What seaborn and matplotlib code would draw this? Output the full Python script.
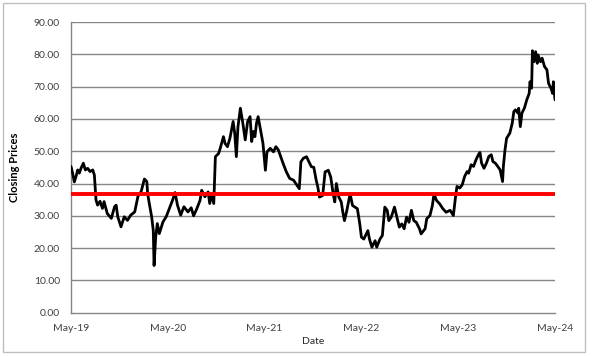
import matplotlib
matplotlib.use("Agg")
import matplotlib.pyplot as plt
import seaborn as sns
import pandas as pd
from matplotlib.patches import Rectangle

# months elapsed since May 2019
month_pos = [0.0, 0.2, 0.41, 0.62, 0.83, 1.03, 1.24, 1.53, 1.78, 2.07, 2.36, 2.7, 2.9, 3.1, 3.3,
             3.6, 3.9, 4.1, 4.5, 5.0, 5.4, 5.6, 5.8, 6.2, 6.6, 7.0, 7.4, 7.9, 8.3, 8.7, 9.1,
             9.4, 9.5, 9.7, 10.0, 10.2, 10.3, 10.5, 10.7, 10.95, 11.4, 11.8, 12.2, 12.6,
             12.9, 13.2, 13.6, 14.0, 14.5, 14.9, 15.2, 15.6, 16.0, 16.2, 16.6, 17.0, 17.2,
             17.4, 17.7, 17.9, 18.3, 18.5, 18.9, 19.1, 19.4, 19.7, 20.1, 20.3, 20.5, 20.7,
             21.0, 21.3, 21.6, 21.9, 22.2, 22.4, 22.6, 22.8, 23.0, 23.2, 23.5, 23.8, 24.0,
             24.1, 24.3, 24.7, 25.1, 25.4, 25.7, 26.0, 26.3, 26.7, 27.1, 27.6, 28.0, 28.3,
             28.5, 28.8, 29.2, 29.5, 29.8, 30.1, 30.4, 30.6, 30.8, 31.2, 31.5, 31.9, 32.2,
             32.5, 32.7, 32.9, 33.2, 33.5, 33.7, 33.9, 34.2, 34.6, 34.9, 35.2, 35.5, 35.8,
             36.0, 36.3, 36.6, 36.8, 37.0, 37.3, 37.7, 37.9, 38.3, 38.6, 38.9, 39.2, 39.4,
             39.7, 40.1, 40.4, 40.7, 41.0, 41.3, 41.6, 41.9, 42.2, 42.5, 42.8, 43.2, 43.4,
             43.9, 44.1, 44.5, 44.8, 45.0, 45.3, 45.7, 46.1, 46.5, 47.0, 47.4, 47.7, 47.85,
             48.2, 48.5, 48.8, 49.1, 49.3, 49.6, 49.9, 50.2, 50.5, 50.7, 50.9, 51.2, 51.5,
             51.8, 52.1, 52.3, 52.6, 52.9, 53.2, 53.5, 53.6, 53.8, 54.0, 54.4, 54.7, 54.9,
             55.1, 55.4, 55.5, 55.7, 55.9, 56.2, 56.5, 56.8, 56.9, 57.1, 57.2, 57.4, 57.6,
             57.8, 57.9, 58.2, 58.4, 58.7, 59.0, 59.2, 59.5, 59.7, 59.8, 60.0]

close_prices = [45.3, 43.2, 40.5, 42.1, 44.2, 43.2, 44.7, 46.3, 44.2, 44.7, 43.7, 44.2, 42.6,
                34.9, 33.3, 34.5, 32.3, 34.4, 30.7, 29.2, 32.8, 33.3, 29.7, 26.6, 29.7, 28.6,
                30.2, 31.2, 36.0, 37.5, 41.4, 40.6, 37.0, 33.9, 29.7, 25.5, 14.6, 23.4, 27.6,
                24.5, 28.1, 29.7, 32.3, 34.9, 37.2, 33.3, 30.2, 32.8, 31.2, 32.5, 30.0, 32.2,
                34.8, 37.9, 35.9, 37.4, 33.8, 36.9, 33.8, 48.3, 49.3, 50.9, 54.5, 52.4, 51.4,
                54.0, 59.2, 55.5, 48.3, 57.6, 63.3, 58.7, 53.5, 59.2, 60.7, 53.0, 56.1, 54.5,
                58.7, 60.7, 56.6, 52.4, 46.7, 44.1, 49.8, 50.9, 49.8, 51.4, 50.4, 48.3, 46.2,
                43.6, 41.6, 41.0, 39.5, 38.4, 46.7, 47.8, 48.3, 46.7, 45.2, 45.0, 41.0, 38.9,
                35.8, 36.3, 43.6, 44.1, 42.0, 36.8, 34.3, 40.0, 35.8, 34.3, 31.1, 28.5, 31.7,
                36.8, 33.2, 32.7, 32.2, 27.5, 23.4, 22.8, 24.4, 25.4, 22.8, 20.3, 22.3, 20.3,
                22.8, 23.9, 32.7, 31.7, 28.5, 29.6, 32.7, 29.6, 26.5, 27.5, 26.0, 29.6, 28.0,
                31.7, 28.5, 28.0, 26.0, 24.4, 26.0, 29.1, 30.1, 33.2, 36.8, 34.8, 33.7, 32.2,
                31.1, 31.7, 30.1, 36.5, 39.1, 38.6, 39.6, 42.2, 43.7, 43.2, 45.8, 45.3, 47.3,
                48.9, 49.6, 46.3, 44.7, 46.3, 48.4, 48.9, 46.8, 46.3, 45.3, 44.2, 40.6, 45.3,
                50.4, 54.0, 55.6, 58.7, 62.3, 62.8, 61.8, 63.3, 57.6, 61.8, 63.3, 65.9, 67.9,
                71.5, 69.5, 81.1, 77.7, 80.8, 77.2, 79.8, 77.7, 78.8, 76.2, 75.2, 71.0, 69.5,
                67.9, 71.5, 65.9]

avg_price = 36.6
tick_months = [0, 12, 24, 36, 48, 60]
tick_labels = ["May-19", "May-20", "May-21", "May-22", "May-23", "May-24"]
y_ticks = [0, 10, 20, 30, 40, 50, 60, 70, 80, 90]

df = pd.DataFrame({"month": month_pos, "close": close_prices})

sns.set_style("white")
plt.rcParams["font.family"] = ["Lato", "DejaVu Sans"]

fig = plt.figure(figsize=(5.98, 3.56), dpi=100)
ax = fig.add_axes([0.1187, 0.1216, 0.8094, 0.8166])

# outer chart border like excel
fig.patches.append(Rectangle((3 / 598, 4 / 356), 582 / 598, 349 / 356, transform=fig.transFigure,
                             fill=False, edgecolor="#bfbfbf", linewidth=1))

for yv in y_ticks[1:]:
    ax.axhline(yv, color="#868686", linewidth=1.0, zorder=1)

sns.lineplot(data=df, x="month", y="close", color="black", linewidth=2.0, ax=ax, zorder=3)
ax.axhline(avg_price, color="#ff0000", linewidth=2.8, zorder=4)

ax.set_xlim(0, 60)
ax.set_ylim(0, 90)
ax.set_xticks(tick_months)
ax.set_xticklabels(tick_labels)
ax.set_yticks(y_ticks)
ax.set_yticklabels([f"{v:.2f}" for v in y_ticks])
ax.tick_params(axis="both", labelsize=7.5, colors="#404040", length=4, width=0.8,
               direction="out", pad=4)
ax.tick_params(axis="both", color="#868686")

for side in ["top", "right"]:
    ax.spines[side].set_visible(False)
for side in ["left", "bottom"]:
    ax.spines[side].set_color("#868686")
    ax.spines[side].set_linewidth(1.0)

ax.set_xlabel("Date", fontsize=7.5, color="#262626", labelpad=3)
ax.set_ylabel("Closing Prices", fontsize=8, fontweight="bold", color="black", labelpad=10)

fig.savefig("out.png", dpi=100)
